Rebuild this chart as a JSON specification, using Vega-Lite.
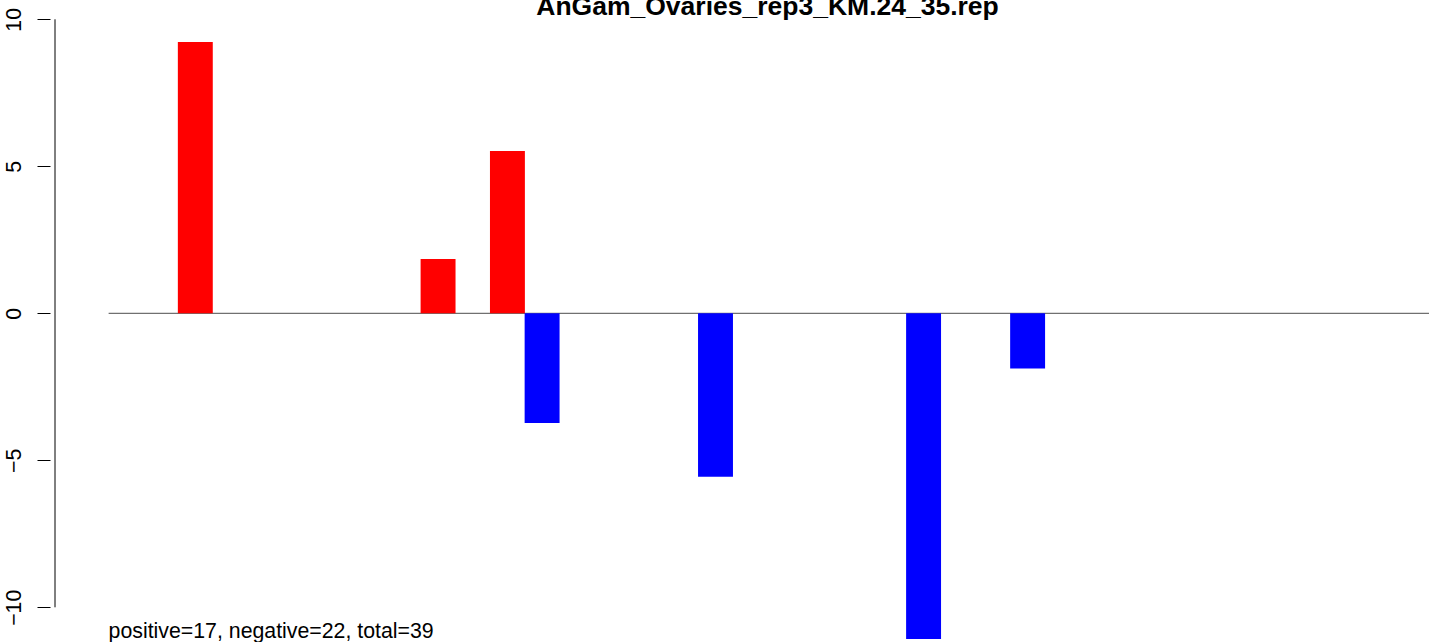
{
  "$schema": "https://vega.github.io/schema/vega-lite/v6.json",
  "autosize": {"type": "none"},
  "padding": {"left": 50, "top": 0, "right": 0, "bottom": 0},
  "width": 1379,
  "height": 642,
  "background": "white",
  "config": {"view": {"stroke": null}, "font": "Liberation Sans"},
  "resolve": {"axis": {"x": "independent", "y": "independent"}},
  "datasets": {
    "bars": [
      {"bar": 1, "value": 0}, {"bar": 2, "value": 0}, {"bar": 3, "value": 9.23},
      {"bar": 4, "value": 0}, {"bar": 5, "value": 0}, {"bar": 6, "value": 0},
      {"bar": 7, "value": 0}, {"bar": 8, "value": 0}, {"bar": 9, "value": 0},
      {"bar": 10, "value": 1.85}, {"bar": 11, "value": 0}, {"bar": 12, "value": 5.52},
      {"bar": 13, "value": -3.73}, {"bar": 14, "value": 0}, {"bar": 15, "value": 0},
      {"bar": 16, "value": 0}, {"bar": 17, "value": 0}, {"bar": 18, "value": -5.56},
      {"bar": 19, "value": 0}, {"bar": 20, "value": 0}, {"bar": 21, "value": 0},
      {"bar": 22, "value": 0}, {"bar": 23, "value": 0}, {"bar": 24, "value": -11.08},
      {"bar": 25, "value": 0}, {"bar": 26, "value": 0}, {"bar": 27, "value": -1.88},
      {"bar": 28, "value": 0}, {"bar": 29, "value": 0}, {"bar": 30, "value": 0},
      {"bar": 31, "value": 0}, {"bar": 32, "value": 0}, {"bar": 33, "value": 0},
      {"bar": 34, "value": 0}, {"bar": 35, "value": 0}, {"bar": 36, "value": 0},
      {"bar": 37, "value": 0}, {"bar": 38, "value": 0}, {"bar": 39, "value": 0}
    ],
    "single": [{}]
  },
  "layer": [
    {
      "data": {"name": "single"},
      "mark": {"type": "rule", "color": "#4d4d4d", "strokeWidth": 1, "clip": true},
      "encoding": {
        "x": {"datum": 0.5, "type": "quantitative", "axis": null},
        "x2": {"datum": 39.5},
        "y": {"datum": 0, "type": "quantitative", "axis": null}
      }
    },
    {
      "data": {"name": "bars"},
      "mark": {"type": "bar", "width": 34.93, "clip": true},
      "encoding": {
        "x": {
          "field": "bar",
          "type": "quantitative",
          "scale": {"domain": [-1.046, 38.43], "nice": false, "zero": false},
          "axis": null
        },
        "y": {
          "field": "value",
          "type": "quantitative",
          "scale": {"domain": [-11.18, 10.656], "nice": false, "zero": false},
          "axis": {
            "values": [-10, -5, 0, 5, 10],
            "domain": false,
            "grid": false,
            "ticks": true,
            "tickSize": 13,
            "tickColor": "black",
            "tickWidth": 1,
            "labelAngle": -90,
            "labelAlign": "center",
            "labelBaseline": "alphabetic",
            "labelPadding": 17,
            "labelFont": "Liberation Sans",
            "labelFontSize": 21.3,
            "labelColor": "black",
            "labelOverlap": false,
            "labelFlush": false,
            "title": null
          }
        },
        "y2": {"datum": 0},
        "color": {
          "condition": {"test": "datum.value > 0", "value": "#ff0000"},
          "value": "#0000ff"
        }
      }
    },
    {
      "data": {"name": "single"},
      "mark": {"type": "rule", "color": "black", "strokeWidth": 1},
      "encoding": {
        "x": {"datum": -1.046, "type": "quantitative", "axis": null},
        "y": {"datum": -10, "type": "quantitative", "axis": null},
        "y2": {"datum": 10}
      }
    },
    {
      "data": {"name": "single"},
      "mark": {
        "type": "text",
        "text": "positive=17, negative=22, total=39",
        "align": "left",
        "baseline": "alphabetic",
        "font": "Liberation Sans",
        "fontSize": 21.3,
        "color": "black"
      },
      "encoding": {
        "x": {"datum": 0.5, "type": "quantitative", "axis": null},
        "y": {"datum": -11.04, "type": "quantitative", "axis": null}
      }
    },
    {
      "data": {"name": "single"},
      "mark": {
        "type": "text",
        "text": "AnGam_Ovaries_rep3_KM.24_35.rep",
        "align": "center",
        "baseline": "alphabetic",
        "font": "Liberation Sans",
        "fontSize": 26.5,
        "fontWeight": "bold",
        "color": "black"
      },
      "encoding": {
        "x": {"datum": 19.5, "type": "quantitative", "axis": null},
        "y": {"datum": 10.146, "type": "quantitative", "axis": null}
      }
    }
  ]
}
